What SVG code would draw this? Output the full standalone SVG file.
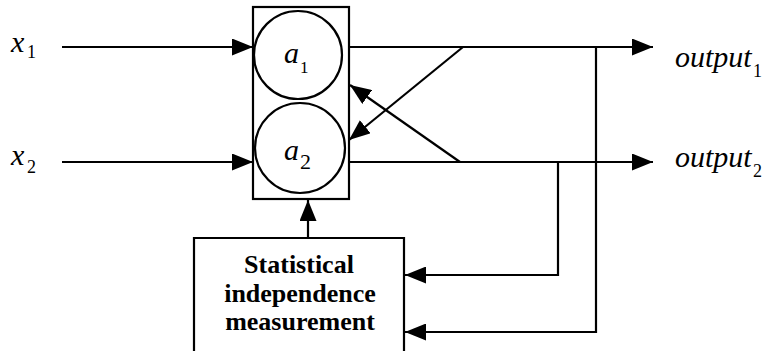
<svg xmlns="http://www.w3.org/2000/svg" width="767" height="351" viewBox="0 0 767 351">
<style>
.ln{fill:none;stroke:#000;stroke-width:2.2}
.node{fill:#fff;stroke:#000;stroke-width:2.2}
text{font-family:'Liberation Serif',serif;fill:#000}
.it{font-style:italic}
.bold{font-weight:bold;font-size:26px;text-anchor:middle}
</style>
<defs>
<marker id="ah" markerUnits="userSpaceOnUse" markerWidth="21" markerHeight="17" refX="21" refY="8.5" orient="auto">
<path d="M0,0 L21,8.5 L0,17 z" fill="#000"/>
</marker>
</defs>
<rect width="767" height="351" fill="#fff"/>
<g id="labels-in">
<text class="it" x="11" y="52" font-size="30">x</text><text x="27" y="58" font-size="18">1</text>
<text class="it" x="11" y="165" font-size="30">x</text><text x="27" y="173" font-size="18">2</text>
</g>
<g id="unit">
<rect class="node" x="253" y="7" width="96" height="192"/>
</g>
<g id="a1">
<circle class="node" cx="298" cy="55" r="44"/>
<text class="it" x="284" y="63" font-size="30">a</text><text x="300" y="73" font-size="17">1</text>
</g>
<g id="a2">
<circle class="node" cx="300" cy="148" r="45"/>
<text class="it" x="284" y="160" font-size="30">a</text><text x="300" y="169" font-size="22">2</text>
</g>
<g id="measure">
<path class="ln" d="M194,360 V238 H404 V360"/>
<text class="bold" x="299" y="273">Statistical</text>
<text class="bold" x="300" y="302">independence</text>
<text class="bold" x="300" y="330">measurement</text>
</g>
<g id="outputs">
<text class="it" x="675" y="67" font-size="30">output</text><text x="753" y="77" font-size="18">1</text>
<text class="it" x="675" y="167" font-size="30">output</text><text x="753" y="177" font-size="18">2</text>
</g>
<g id="connectors">
<line class="ln" x1="62" y1="47" x2="253" y2="47" marker-end="url(#ah)"/>
<line class="ln" x1="62" y1="162" x2="253" y2="162" marker-end="url(#ah)"/>
<line class="ln" x1="349" y1="47" x2="653" y2="47" marker-end="url(#ah)"/>
<line class="ln" x1="349" y1="162" x2="653" y2="162" marker-end="url(#ah)"/>
<line class="ln" x1="463" y1="47" x2="349" y2="140" marker-end="url(#ah)"/>
<line class="ln" x1="460" y1="162" x2="350" y2="85" marker-end="url(#ah)"/>
<polyline class="ln" points="596,47 596,332 405,332" marker-end="url(#ah)"/>
<polyline class="ln" points="558,162 558,275 405,275" marker-end="url(#ah)"/>
<line class="ln" x1="308" y1="238" x2="308" y2="200" marker-end="url(#ah)"/>
</g>
</svg>
